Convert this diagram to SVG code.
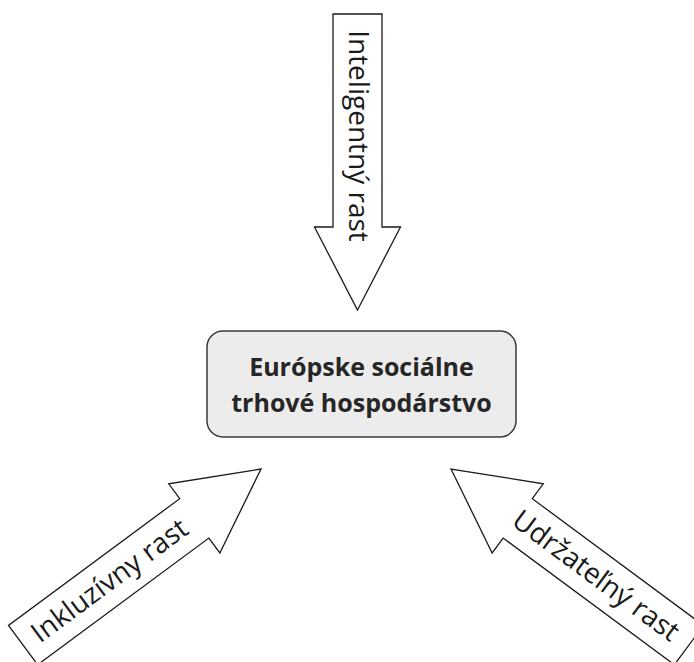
<svg xmlns="http://www.w3.org/2000/svg" width="694" height="662" viewBox="0 0 694 662">
  <defs>
    <style>
      .arrow { fill: #ffffff; stroke: #1a1a1a; stroke-width: 1.3; stroke-linejoin: miter; }
      .alabel { font-family: "Open Sans", "Noto Sans", "Liberation Sans", sans-serif; font-size: 28px; fill: #1a1a1a; text-anchor: middle; }
      .box { fill: #ececec; stroke: #3a3a3a; stroke-width: 1.5; }
      .blabel { font-family: "Open Sans", "Noto Sans", "Liberation Sans", sans-serif; font-size: 25px; font-weight: bold; fill: #262626; text-anchor: middle; }
    </style>
    <polygon id="arrowShape" points="0,0 -83,-43 -83,-24.5 -296,-24.5 -296,24.5 -83,24.5 -83,43"/>
  </defs>
  <rect width="694" height="662" fill="#ffffff"/>

  <g id="connectors">
    <g id="arrow-top" transform="translate(357.5,310) rotate(90)">
      <use href="#arrowShape" class="arrow"/>
      <text class="alabel" x="-174" y="9">Inteligentný rast</text>
    </g>
    <g id="arrow-left" transform="translate(261,469) rotate(-36.5)">
      <use href="#arrowShape" class="arrow"/>
      <text class="alabel" x="-188" y="9">Inkluzívny rast</text>
    </g>
    <g id="arrow-right" transform="translate(451,469) rotate(-143.5)">
      <use href="#arrowShape" class="arrow"/>
      <g transform="translate(-180,0) rotate(180)">
        <text class="alabel" x="0" y="9">Udržateľný rast</text>
      </g>
    </g>
  </g>

  <g id="node-center">
    <rect class="box" x="207" y="331" width="309" height="106" rx="16" ry="16"/>
    <text class="blabel" x="361.5" y="376">Európske sociálne</text>
    <text class="blabel" x="361.5" y="412">trhové hospodárstvo</text>
  </g>
</svg>
